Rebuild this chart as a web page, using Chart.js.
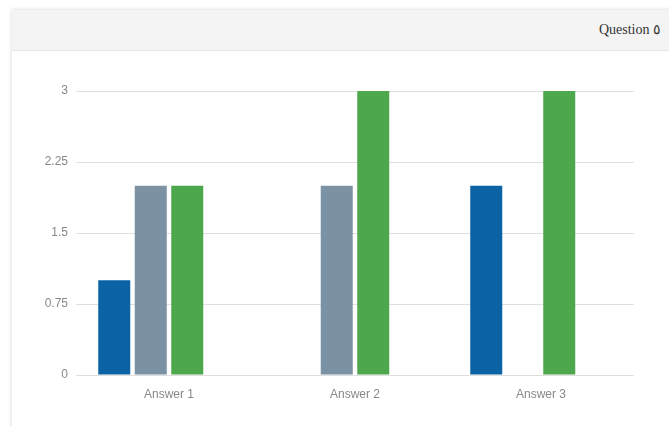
<!DOCTYPE html>
<html>
<head>
<meta charset="utf-8">
<script src="https://cdn.jsdelivr.net/npm/chart.js@4.4.1/dist/chart.umd.min.js"></script>
<style>
  html, body { margin: 0; padding: 0; background: #fff; width: 669px; height: 426px; overflow: hidden; }
  .panel { position: absolute; left: 12px; top: 10px; width: 720px; height: 520px; background: #fff;
           box-shadow: 0 0 4px rgba(0,0,0,0.18); }
  .panel-head { height: 40px; background: #f4f4f4; border-bottom: 1px solid #e6e6e6; position: relative; }
  .panel-title { position: absolute; right: 71px; top: 11px; font-family: "Liberation Serif", "DejaVu Serif", serif;
                 font-size: 14px; color: #333; }
  #c { position: absolute; left: 0; top: 0; }
</style>
</head>
<body>
<div class="panel"><div class="panel-head"><span class="panel-title">Question ٥</span></div></div>
<canvas id="c" width="669" height="426"></canvas>
<script>
const categories = ["Answer 1", "Answer 2", "Answer 3"];
const seriesA = [1, null, 2];
const seriesB = [2, 2, null];
const seriesC = [2, 3, 3];
const spacer = [null, null, null];
const yTicks = [0, 0.75, 1.5, 2.25, 3];
const tickText = ["0", "0.75", "1.5", "2.25", "3"];

new Chart(document.getElementById("c"), {
  type: "bar",
  data: {
    labels: categories,
    datasets: [
      { label: "A", data: seriesA, backgroundColor: "#0b62a4" },
      { label: "B", data: seriesB, backgroundColor: "#7a92a3" },
      { label: "C", data: seriesC, backgroundColor: "#4da74d" },
      { label: "", data: spacer, backgroundColor: "rgba(0,0,0,0)" }
    ]
  },
  options: {
    responsive: false,
    animation: false,
    devicePixelRatio: 1,
    categoryPercentage: 146 / 186,
    barPercentage: 32 / 36.5,
    layout: { padding: { top: 91, right: 35, left: 0, bottom: 0 } },
    plugins: { legend: { display: false }, tooltip: { enabled: false }, title: { display: false } },
    scales: {
      x: {
        grid: { display: false, drawTicks: false },
        border: { display: false },
        ticks: { color: "#888", font: { family: "Liberation Sans, Arial, sans-serif", size: 12 }, padding: 12 },
        afterFit: (s) => { s.height = 51; }
      },
      y: {
        min: 0, max: 3,
        afterBuildTicks: (s) => { s.ticks = yTicks.map(v => ({ value: v })); },
        grid: { color: "#dfdfdf", lineWidth: 1, drawTicks: false },
        border: { display: false },
        ticks: {
          color: "#888", font: { family: "Liberation Sans, Arial, sans-serif", size: 12 }, padding: 8,
          callback: (v) => tickText[yTicks.indexOf(v)]
        },
        afterFit: (s) => { s.width = 76; }
      }
    }
  }
});
</script>
</body>
</html>
